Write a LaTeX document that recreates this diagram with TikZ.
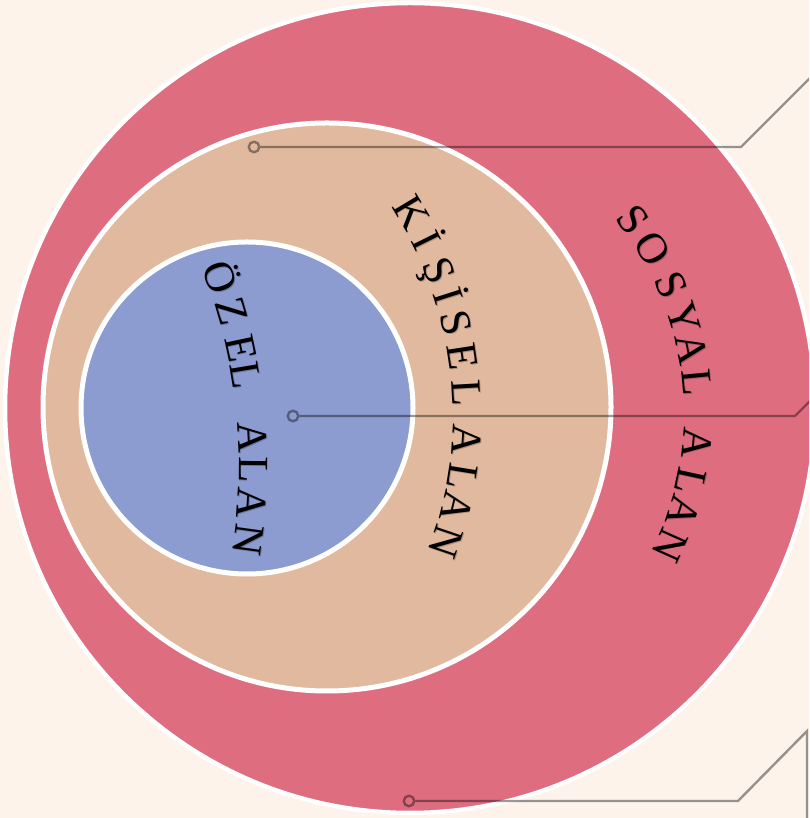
\documentclass[tikz,border=0pt]{standalone}
\usepackage{fontspec}
\setmainfont{Liberation Serif}
\usetikzlibrary{calc}
\definecolor{bgc}{HTML}{FDF3EB}
\definecolor{redc}{HTML}{DF6D80}
\definecolor{beigec}{HTML}{E1B99F}
\definecolor{bluec}{HTML}{8C9BD0}
\newcommand\lettersize{\fontsize{43}{43}\selectfont}
\tikzset{
  zone/.style={draw=white},
  letter/.style={font=\lettersize, text=black, inner sep=0pt,
     text height=20pt, text depth=0pt, anchor=center},
  lshadow/.style={letter, text=black, text opacity=0.22},
  conn/.style={draw=black, draw opacity=0.4, line width=2.4pt},
  dotnode/.style={circle, draw=black, draw opacity=0.4, line width=2.4pt,
     minimum size=10.5pt, inner sep=0pt}
}
\begin{document}
\begin{tikzpicture}[x=1pt,y=1pt]
\useasboundingbox (0,0) rectangle (809,818);
\fill[bgc] (0,0) rectangle (809,818);
\clip (0,0) rectangle (809,818);
% circles
\path[zone, fill=redc, line width=4.5pt] (410,410) circle[radius=405];
\path[zone, fill=beigec, line width=5pt] (327,411) circle[radius=284];
\path[zone, fill=bluec, line width=5pt] (247,410) circle[radius=166];
% SOSYAL ALAN
\foreach \a/\l [count=\i] in {37.0/S,30.7/O,23.5/S,17.1/Y,11.4/A,5.4/L,-5.4/A,-12.2/L,-17.8/A,-24.2/N}{
  \node[lshadow,rotate=\a-90] (sossh\i) at ($(376.9,404.1)+(\a:318)$) {\l};
  \node[letter,rotate=\a-90] (sos\i) at ($(376,405)+(\a:318)$) {\l};
}
% KISISEL ALAN
\foreach \a/\l [count=\i] in {31.0/K,26.4/İ,21.7/Ş,17.7/İ,13.6/S,8.6/E,3.2/L,-3.7/A,-9.1/L,-13.6/A,-18.8/N}{
  \node[lshadow,rotate=\a-90] (kissh\i) at ($(75.9,402.1)+(\a:388)$) {\l};
  \node[letter,rotate=\a-90] (kis\i) at ($(75,403)+(\a:388)$) {\l};
}
% OZEL ALAN
\foreach \a/\l [count=\i] in {19.85/Ö,16.1/Z,12.2/E,9.3/L,2.9/A,-0.5/L,-3.9/A,-7.8/N}{
  \node[lshadow,rotate=\a-90] (ozsh\i) at ($(-299.1,352.1)+(\a:549)$) {\l};
  \node[letter,rotate=\a-90] (oz\i) at ($(-300,353)+(\a:549)$) {\l};
}
% connectors
\node[dotnode] (d1) at (254,671) {};
\coordinate (b1) at (741,671);
\coordinate (e1) at (810,740);
\node[dotnode] (d2) at (293,402) {};
\coordinate (b2) at (795,402);
\coordinate (e2) at (811,418);
\node[dotnode] (d3) at (409,17) {};
\coordinate (b3) at (738,17);
\coordinate (c3) at (807,87);
\coordinate (e3) at (807,-2);
\draw[conn] (d1) -- (b1) -- (e1);
\draw[conn] (d2) -- (b2) -- (e2);
\draw[conn, line join=miter] (d3) -- (b3) -- (c3) -- (e3);
\end{tikzpicture}
\end{document}
